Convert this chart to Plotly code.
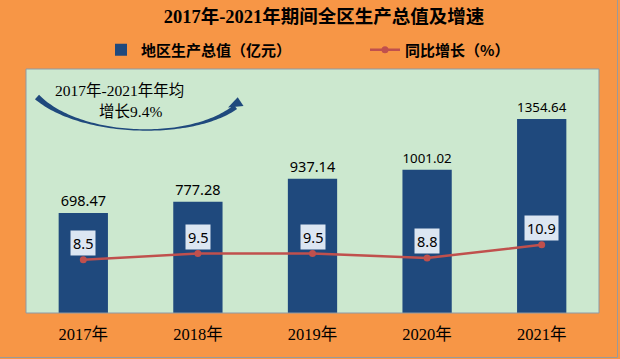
import numpy as np
import plotly.graph_objects as go

years = ["2017年", "2018年", "2019年", "2020年", "2021年"]
gdp = [698.47, 777.28, 937.14, 1001.02, 1354.64]
growth = [8.5, 9.5, 9.5, 8.8, 10.9]
gdp_labels = ["698.47", "777.28", "937.14", "1001.02", "1354.64"]
growth_labels = ["8.5", "9.5", "9.5", "8.8", "10.9"]

W, H = 620, 359
ML, MR, MT, MB = 26, 21, 69, 46
PW, PH = W - ML - MR, H - MT - MB


def px(x, y):
    return (x - ML) / PW, (H - MB - y) / PH


fig = go.Figure()
fig.add_trace(go.Bar(
    x=years, y=gdp, name="地区生产总值（亿元）",
    marker=dict(color="#1F497D", line=dict(width=0)),
    width=0.43,
    text=gdp_labels, textposition="outside",
    textfont=dict(family="Noto Sans, Liberation Sans, sans-serif", size=14.5, color="#000000"),
    cliponaxis=False, legend="legend", hoverinfo="skip",
))
fig.add_trace(go.Scatter(
    x=years, y=growth, name="同比增长（%）", yaxis="y2",
    mode="lines+markers",
    line=dict(color="#C0504D", width=2.5),
    marker=dict(color="#C0504D", size=7),
    cliponaxis=False, legend="legend2", hoverinfo="skip",
))

annotations = []
for yr, v, lab in zip(years, growth, growth_labels):
    annotations.append(dict(
        x=yr, y=v, xref="x", yref="y2", text=lab, showarrow=False,
        yshift=17, bgcolor="#DCE6F2", borderpad=2,
        font=dict(family="Noto Sans, Liberation Sans, sans-serif", size=14.5, color="#000000"),
    ))

serif = "Liberation Serif, DejaVu Serif, Noto Sans CJK SC, serif"
ax1, ay1 = px(119, 90)
ax2, ay2 = px(130, 111)
annotations.append(dict(x=ax1, y=ay1, xref="paper", yref="paper", text="2017年-2021年年均",
                        showarrow=False, font=dict(family=serif, size=15.5, color="#000000"),
                        xanchor="center", yanchor="middle"))
annotations.append(dict(x=ax2, y=ay2, xref="paper", yref="paper", text="增长9.4%",
                        showarrow=False, font=dict(family=serif, size=15.5, color="#000000"),
                        xanchor="center", yanchor="middle"))

# curved arrow (decoration), defined in pixel space
P = np.array([[37, 97], [80, 137], [190, 141], [235.5, 107]], dtype=float)
t = np.linspace(0, 1, 80)
B = (((1 - t) ** 3)[:, None] * P[0] + (3 * (1 - t) ** 2 * t)[:, None] * P[1]
     + (3 * (1 - t) * t ** 2)[:, None] * P[2] + (t ** 3)[:, None] * P[3])
D = ((3 * (1 - t) ** 2)[:, None] * (P[1] - P[0]) + (6 * (1 - t) * t)[:, None] * (P[2] - P[1])
     + (3 * t ** 2)[:, None] * (P[3] - P[2]))
N = np.stack([-D[:, 1], D[:, 0]], axis=1)
N /= np.linalg.norm(N, axis=1)[:, None]
hw = np.where(t < 0.5, 0.7 + 2.3 * (1 - 2 * t) ** 2, 0.7 + 1.9 * (2 * t - 1) ** 2)
up = B + N * hw[:, None]
lo = B - N * hw[:, None]
pts = list(up) + list(lo[::-1])
path = "M " + " L ".join("%.5f,%.5f" % px(p[0], p[1]) for p in pts) + " Z"
head = [(237.7, 97.2), (243.5, 106), (228.0, 107.5)]
hpath = "M " + " L ".join("%.5f,%.5f" % px(*p) for p in head) + " Z"

shapes = [
    dict(type="path", xref="paper", yref="paper", path=path,
         fillcolor="#1F497D", line=dict(width=0), layer="above"),
    dict(type="path", xref="paper", yref="paper", path=hpath,
         fillcolor="#1F497D", line=dict(width=0), layer="above"),
    dict(type="rect", xref="paper", yref="paper", x0=0, y0=0, x1=1, y1=1,
         line=dict(color="#8E99A4", width=1), layer="above"),
]
rx, _ = px(617.5, 0)
_, by = px(0, 357.5)
_, ty = px(0, 0)
shapes.append(dict(type="line", xref="paper", yref="paper", x0=rx, x1=rx, y0=by, y1=ty,
                   line=dict(color="#9A9A9A", width=1)))
lx0, _ = px(0, 0)
shapes.append(dict(type="line", xref="paper", yref="paper", x0=lx0, x1=rx, y0=by, y1=by,
                   line=dict(color="#9A9A9A", width=1)))

lgfont = dict(family="Noto Sans CJK SC, sans-serif", size=15, color="#000000", weight="bold")
l1x, lgy = px(101, 50)
l2x, _ = px(365, 50)
fig.update_layout(
    width=W, height=H,
    margin=dict(l=ML, r=MR, t=MT, b=MB, pad=0, autoexpand=False),
    paper_bgcolor="#F79646",
    plot_bgcolor="#CCE8CF",
    title=dict(text="<b>2017年-2021年期间全区生产总值及增速</b>",
               xref="container", x=324 / W, xanchor="center",
               yref="container", y=1 - 17 / H, yanchor="middle",
               font=dict(family=serif, size=18.5, color="#000000")),
    showlegend=True,
    legend=dict(orientation="h", x=l1x, y=lgy, xanchor="left", yanchor="middle",
                bgcolor="rgba(0,0,0,0)", font=lgfont),
    legend2=dict(orientation="h", x=l2x, y=lgy, xanchor="left", yanchor="middle",
                 bgcolor="rgba(0,0,0,0)", font=lgfont),
    xaxis=dict(type="category", showgrid=False, zeroline=False, showline=False,
               ticks="", ticklabelstandoff=9,
               tickfont=dict(family=serif, size=16.5, color="#000000")),
    yaxis=dict(range=[0, 1704], visible=False, showgrid=False),
    yaxis2=dict(range=[0, 39], overlaying="y", visible=False, showgrid=False),
    annotations=annotations,
    shapes=shapes,
    hovermode=False,
)

fig.write_html("out.html",
               config={"displayModeBar": False},
               post_script="document.body.style.margin='0';document.body.style.overflow='hidden';")
